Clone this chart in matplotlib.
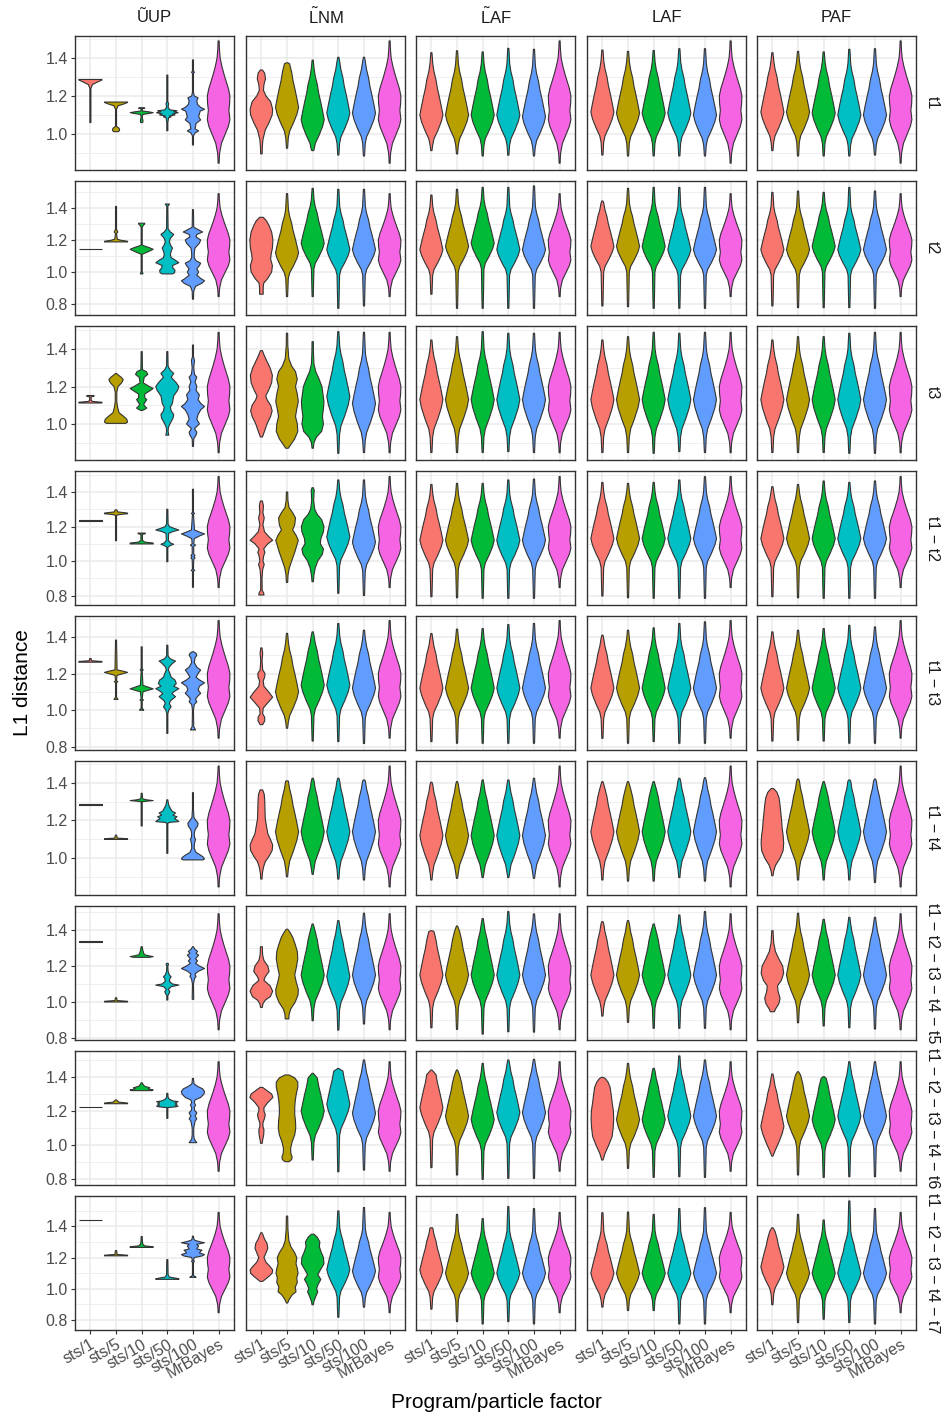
import matplotlib
matplotlib.use("Agg")
import matplotlib.pyplot as plt
import numpy as np
from matplotlib.ticker import MultipleLocator, FormatStrFormatter

plt.rcParams["font.family"] = ["Liberation Sans", "DejaVu Sans"]
plt.rcParams["mathtext.fontset"] = "custom"
plt.rcParams["mathtext.rm"] = "Liberation Sans"
plt.rcParams["mathtext.it"] = "Liberation Sans"

programs = ["sts/1", "sts/5", "sts/10", "sts/50", "sts/100", "MrBayes"]
methods = ["\u0168UP", r"$\tilde{\mathrm{L}}\mathrm{NM}$", r"$\tilde{\mathrm{L}}\mathrm{AF}$",
           "LAF", "PAF"]
topologies = ["t1", "t2", "t3", "t1 \u2212 t2", "t1 \u2212 t3", "t1 \u2212 t4",
              "t1 \u2212 t2 \u2212 t3 \u2212 t4 \u2212 t5",
              "t1 \u2212 t2 \u2212 t3 \u2212 t4 \u2212 t6",
              "t1 \u2212 t2 \u2212 t3 \u2212 t4 \u2212 t7"]
fill_colors = ["#F8766D", "#B79F00", "#00BA38", "#00BFC4", "#619CFF", "#F564E3"]

# y range of every facet row (free scales)
row_ylim = [(0.81, 1.516), (0.731, 1.569), (0.807, 1.524), (0.745, 1.522),
            (0.781, 1.515), (0.803, 1.517), (0.789, 1.533), (0.765, 1.553),
            (0.735, 1.595)]
# how spread out the body of a smooth violin is in each row (lower, upper)
row_body_scale = [(1.0, 1.0), (1.0, 1.0), (1.25, 1.0), (1.05, 1.0), (1.05, 1.0),
                  (1.25, 1.0), (1.15, 1.05), (1.15, 1.05), (1.1, 1.0)]

# MrBayes violin, identical in every facet: (L1 distance, half width)
mrbayes_y = [0.846, 0.87, 0.90, 0.95, 1.0, 1.04, 1.075, 1.10, 1.125, 1.16,
             1.20, 1.24, 1.27, 1.31, 1.355, 1.40, 1.45, 1.49]
mrbayes_w = [0.02, 0.025, 0.04, 0.11, 0.26, 0.38, 0.44, 0.42, 0.40, 0.43,
             0.44, 0.38, 0.31, 0.22, 0.13, 0.06, 0.03, 0.02]

body_up_dy = [0, 0.045, 0.095, 0.14, 0.185, 0.23, 0.27]
body_up_w = [1, 0.86, 0.69, 0.52, 0.40, 0.22, 0.12]
body_dn_dy = [0, 0.035, 0.08, 0.125, 0.16]
body_dn_w = [1, 0.86, 0.57, 0.23, 0.11]
tail_w = 0.05

# smooth violins: (min, mode, max) for sts/1 .. sts/100, one line per row
summ_lnm = [
    [None, (0.925, 1.14, 1.375), (0.912, 1.075, 1.389), (0.889, 1.11, 1.404), (0.884, 1.11, 1.404)],
    [None, (0.846, 1.12, 1.49), (0.846, 1.18, 1.523), (0.773, 1.14, 1.517), (0.788, 1.14, 1.517)],
    [None, None, None, (0.843, 1.146, 1.494), (0.847, 1.11, 1.49)],
    [None, None, None, (0.813, 1.14, 1.47), (0.80, 1.11, 1.47)],
    [None, (0.90, 1.10, 1.42), (0.83, 1.137, 1.428), (0.827, 1.137, 1.474), (0.817, 1.12, 1.437)],
    [None, (0.90, 1.14, 1.411), (0.913, 1.14, 1.425), (0.888, 1.14, 1.425), (0.883, 1.14, 1.416)],
    [None, None, (0.896, 1.15, 1.433), (0.844, 1.141, 1.452), (0.878, 1.15, 1.493)],
    [None, None, (0.912, 1.20, 1.422), (0.843, 1.24, 1.45), (0.853, 1.186, 1.50)],
    [None, None, None, (0.817, 1.123, 1.499), (0.882, 1.113, 1.521)],
]
summ_tlaf = [
    [(0.912, 1.10, 1.428), (0.895, 1.10, 1.438), (0.884, 1.10, 1.432), (0.888, 1.10, 1.451), (0.884, 1.09, 1.446)],
    [(0.861, 1.14, 1.481), (0.773, 1.16, 1.517), (0.773, 1.18, 1.529), (0.773, 1.14, 1.529), (0.773, 1.14, 1.538)],
    [(0.847, 1.13, 1.449), (0.847, 1.13, 1.467), (0.847, 1.13, 1.494), (0.852, 1.13, 1.485), (0.847, 1.13, 1.485)],
    [(0.793, 1.12, 1.444), (0.787, 1.12, 1.45), (0.784, 1.12, 1.45), (0.784, 1.12, 1.47), (0.784, 1.12, 1.475)],
    [(0.827, 1.12, 1.419), (0.818, 1.12, 1.443), (0.818, 1.12, 1.446), (0.818, 1.12, 1.468), (0.818, 1.12, 1.474)],
    [(0.883, 1.12, 1.404), (0.892, 1.12, 1.407), (0.896, 1.12, 1.416), (0.896, 1.12, 1.416), (0.892, 1.12, 1.425)],
    [(0.857, 1.15, 1.396), (0.848, 1.15, 1.422), (0.822, 1.15, 1.463), (0.835, 1.15, 1.502), (0.833, 1.15, 1.489)],
    [(0.867, 1.22, 1.441), (0.824, 1.17, 1.441), (0.798, 1.15, 1.48), (0.804, 1.19, 1.50), (0.804, 1.19, 1.504)],
    [(0.869, 1.12, 1.391), (0.789, 1.10, 1.477), (0.774, 1.10, 1.45), (0.789, 1.10, 1.527), (0.774, 1.10, 1.514)],
]
summ_laf = [
    [(0.889, 1.115, 1.442), (0.884, 1.11, 1.435), (0.884, 1.11, 1.44), (0.884, 1.11, 1.449), (0.884, 1.10, 1.449)],
    [(0.788, 1.16, 1.444), (0.783, 1.16, 1.523), (0.773, 1.16, 1.529), (0.773, 1.14, 1.529), (0.773, 1.14, 1.529)],
    [(0.847, 1.13, 1.449), (0.847, 1.13, 1.467), (0.843, 1.13, 1.49), (0.852, 1.13, 1.485), (0.847, 1.13, 1.49)],
    [(0.797, 1.13, 1.456), (0.787, 1.13, 1.45), (0.784, 1.13, 1.456), (0.784, 1.13, 1.47), (0.784, 1.13, 1.489)],
    [(0.845, 1.12, 1.41), (0.818, 1.12, 1.437), (0.827, 1.12, 1.45), (0.818, 1.12, 1.474), (0.818, 1.12, 1.483)],
    [(0.883, 1.14, 1.407), (0.877, 1.14, 1.407), (0.877, 1.14, 1.407), (0.896, 1.14, 1.425), (0.877, 1.14, 1.428)],
    [(0.922, 1.15, 1.446), (0.887, 1.15, 1.452), (0.854, 1.15, 1.433), (0.854, 1.15, 1.483), (0.854, 1.15, 1.502)],
    [None, (0.863, 1.15, 1.48), (0.81, 1.15, 1.451), (0.814, 1.17, 1.524), (0.81, 1.17, 1.50)],
    [(0.882, 1.10, 1.488), (0.86, 1.10, 1.492), (0.86, 1.10, 1.477), (0.774, 1.10, 1.514), (0.774, 1.10, 1.52)],
]
summ_paf = [
    [(0.912, 1.115, 1.428), (0.884, 1.115, 1.435), (0.884, 1.11, 1.432), (0.884, 1.10, 1.446), (0.889, 1.10, 1.449)],
    [(0.788, 1.14, 1.498), (0.777, 1.14, 1.506), (0.777, 1.16, 1.498), (0.777, 1.14, 1.529), (0.773, 1.14, 1.506)],
    [(0.847, 1.13, 1.449), (0.847, 1.13, 1.467), (0.847, 1.13, 1.467), (0.843, 1.13, 1.485), (0.843, 1.13, 1.49)],
    [(0.793, 1.13, 1.431), (0.787, 1.13, 1.444), (0.784, 1.13, 1.464), (0.784, 1.13, 1.456), (0.784, 1.13, 1.464)],
    [(0.83, 1.12, 1.428), (0.834, 1.12, 1.437), (0.83, 1.12, 1.446), (0.818, 1.12, 1.464), (0.818, 1.12, 1.455)],
    [None, (0.883, 1.14, 1.421), (0.883, 1.14, 1.407), (0.883, 1.14, 1.416), (0.87, 1.14, 1.421)],
    [None, (0.885, 1.15, 1.493), (0.867, 1.15, 1.459), (0.857, 1.15, 1.47), (0.85, 1.15, 1.47)],
    [(0.935, 1.11, 1.418), (0.824, 1.17, 1.431), (0.81, 1.15, 1.402), (0.814, 1.17, 1.49), (0.814, 1.17, 1.49)],
    [(0.897, 1.14, 1.391), (0.783, 1.10, 1.477), (0.804, 1.10, 1.441), (0.783, 1.10, 1.563), (0.774, 1.10, 1.514)],
]
summaries = [None, summ_lnm, summ_tlaf, summ_laf, summ_paf]

# irregular violins: (row, method, program) -> [(L1 distance, half width), ...]
odd_shapes = {
    # ~UP
    (0, 0, 0): [(1.06, 0.02), (1.24, 0.02), (1.26, 0.08), (1.275, 0.30), (1.284, 0.45), (1.287, 0.45)],
    (0, 0, 1): [(1.012, 0.10), (1.02, 0.14), (1.03, 0.12), (1.04, 0.02), (1.13, 0.02), (1.148, 0.08),
                (1.16, 0.35), (1.166, 0.45), (1.168, 0.45)],
    (0, 0, 2): [(1.06, 0.04), (1.07, 0.05), (1.09, 0.02), (1.103, 0.05), (1.108, 0.30), (1.112, 0.45),
                (1.116, 0.30), (1.121, 0.03), (1.133, 0.02), (1.135, 0.12), (1.138, 0.10)],
    (0, 0, 3): [(1.017, 0.02), (1.06, 0.02), (1.085, 0.05), (1.09, 0.15), (1.095, 0.08), (1.10, 0.30),
                (1.105, 0.20), (1.112, 0.42), (1.117, 0.25), (1.122, 0.38), (1.127, 0.10), (1.14, 0.03),
                (1.16, 0.05), (1.17, 0.02), (1.31, 0.02)],
    (0, 0, 4): [(0.942, 0.02), (0.99, 0.02), (1.005, 0.08), (1.016, 0.22), (1.027, 0.08), (1.04, 0.10),
                (1.055, 0.12), (1.074, 0.30), (1.09, 0.22), (1.105, 0.25), (1.12, 0.28), (1.13, 0.45),
                (1.14, 0.30), (1.155, 0.18), (1.175, 0.15), (1.19, 0.20), (1.20, 0.05), (1.22, 0.02),
                (1.32, 0.02), (1.325, 0.06), (1.33, 0.02), (1.39, 0.02)],
    (1, 0, 0): [(1.141, 0.45), (1.143, 0.45)],
    (1, 0, 1): [(1.188, 0.45), (1.192, 0.45), (1.198, 0.20), (1.205, 0.05), (1.24, 0.02), (1.25, 0.07),
                (1.255, 0.06), (1.265, 0.02), (1.41, 0.02)],
    (1, 0, 2): [(0.988, 0.05), (0.995, 0.04), (1.0, 0.02), (1.11, 0.02), (1.115, 0.08), (1.13, 0.30),
                (1.142, 0.45), (1.152, 0.30), (1.165, 0.06), (1.17, 0.02), (1.28, 0.02), (1.295, 0.08),
                (1.30, 0.12), (1.305, 0.12)],
    (1, 0, 3): [(0.988, 0.20), (0.995, 0.28), (1.01, 0.30), (1.025, 0.22), (1.04, 0.20), (1.058, 0.45),
                (1.075, 0.30), (1.09, 0.15), (1.11, 0.12), (1.13, 0.15), (1.15, 0.20), (1.17, 0.12),
                (1.19, 0.08), (1.21, 0.12), (1.235, 0.25), (1.25, 0.12), (1.27, 0.03), (1.41, 0.02),
                (1.42, 0.06), (1.425, 0.08)],
    (1, 0, 4): [(0.83, 0.02), (0.88, 0.03), (0.91, 0.10), (0.93, 0.35), (0.945, 0.45), (0.96, 0.30),
                (0.98, 0.15), (1.0, 0.22), (1.02, 0.15), (1.04, 0.25), (1.055, 0.30), (1.07, 0.12),
                (1.09, 0.05), (1.12, 0.05), (1.15, 0.08), (1.18, 0.25), (1.20, 0.30), (1.22, 0.12),
                (1.235, 0.15), (1.25, 0.38), (1.265, 0.20), (1.28, 0.03), (1.39, 0.02)],
    (2, 0, 0): [(1.112, 0.45), (1.116, 0.45), (1.12, 0.10), (1.125, 0.03), (1.145, 0.03), (1.148, 0.14),
                (1.152, 0.14)],
    (2, 0, 1): [(1.003, 0.38), (1.01, 0.45), (1.025, 0.42), (1.04, 0.30), (1.06, 0.12), (1.09, 0.06),
                (1.12, 0.03), (1.17, 0.03), (1.20, 0.08), (1.22, 0.22), (1.237, 0.28), (1.25, 0.20),
                (1.265, 0.06), (1.27, 0.02)],
    (2, 0, 2): [(1.072, 0.03), (1.078, 0.12), (1.085, 0.20), (1.095, 0.12), (1.105, 0.08), (1.12, 0.15),
                (1.13, 0.20), (1.14, 0.12), (1.16, 0.12), (1.18, 0.35), (1.19, 0.45), (1.20, 0.30),
                (1.22, 0.06), (1.25, 0.10), (1.265, 0.24), (1.28, 0.18), (1.29, 0.03), (1.387, 0.02)],
    (2, 0, 3): [(0.94, 0.06), (0.945, 0.05), (0.96, 0.03), (0.98, 0.04), (1.0, 0.10), (1.03, 0.22),
                (1.05, 0.25), (1.07, 0.15), (1.09, 0.12), (1.11, 0.20), (1.13, 0.22), (1.15, 0.25),
                (1.18, 0.40), (1.20, 0.45), (1.22, 0.35), (1.25, 0.15), (1.27, 0.25), (1.29, 0.10),
                (1.31, 0.03), (1.387, 0.02)],
    (2, 0, 4): [(0.88, 0.02), (0.92, 0.03), (0.94, 0.12), (0.955, 0.15), (0.975, 0.06), (1.0, 0.25),
                (1.025, 0.15), (1.05, 0.20), (1.075, 0.30), (1.093, 0.45), (1.11, 0.30), (1.13, 0.20),
                (1.155, 0.25), (1.18, 0.12), (1.20, 0.15), (1.225, 0.08), (1.25, 0.15), (1.265, 0.06),
                (1.30, 0.03), (1.34, 0.06), (1.36, 0.02), (1.422, 0.02)],
    (3, 0, 0): [(1.233, 0.45), (1.235, 0.45)],
    (3, 0, 1): [(1.118, 0.02), (1.265, 0.02), (1.27, 0.15), (1.274, 0.45), (1.278, 0.45), (1.285, 0.06),
                (1.292, 0.05), (1.297, 0.02)],
    (3, 0, 2): [(1.099, 0.45), (1.104, 0.45), (1.11, 0.12), (1.12, 0.03), (1.155, 0.03), (1.158, 0.14),
                (1.162, 0.14)],
    (3, 0, 3): [(0.996, 0.02), (1.08, 0.02), (1.09, 0.12), (1.097, 0.25), (1.105, 0.12), (1.12, 0.04),
                (1.16, 0.05), (1.17, 0.20), (1.18, 0.45), (1.19, 0.25), (1.20, 0.08), (1.215, 0.03),
                (1.30, 0.02)],
    (3, 0, 4): [(0.848, 0.02), (0.94, 0.02), (0.946, 0.07), (0.952, 0.02), (1.01, 0.03), (1.017, 0.08),
                (1.025, 0.04), (1.032, 0.08), (1.04, 0.03), (1.085, 0.03), (1.092, 0.10), (1.10, 0.03),
                (1.13, 0.05), (1.145, 0.25), (1.157, 0.45), (1.168, 0.25), (1.18, 0.06), (1.27, 0.02),
                (1.276, 0.06), (1.282, 0.02), (1.416, 0.02)],
    (4, 0, 0): [(1.262, 0.45), (1.266, 0.45), (1.27, 0.04), (1.28, 0.03), (1.282, 0.03)],
    (4, 0, 1): [(1.058, 0.08), (1.062, 0.06), (1.07, 0.02), (1.15, 0.02), (1.155, 0.07), (1.16, 0.02),
                (1.19, 0.04), (1.20, 0.30), (1.206, 0.45), (1.212, 0.30), (1.22, 0.04), (1.383, 0.02)],
    (4, 0, 2): [(0.999, 0.08), (1.003, 0.06), (1.01, 0.02), (1.05, 0.02), (1.055, 0.07), (1.06, 0.02),
                (1.10, 0.05), (1.11, 0.30), (1.116, 0.45), (1.123, 0.30), (1.135, 0.05), (1.215, 0.02),
                (1.22, 0.06), (1.225, 0.02), (1.346, 0.02)],
    (4, 0, 3): [(0.872, 0.02), (0.98, 0.02), (1.0, 0.06), (1.018, 0.15), (1.035, 0.08), (1.05, 0.12),
                (1.073, 0.32), (1.09, 0.18), (1.10, 0.25), (1.117, 0.45), (1.13, 0.25), (1.145, 0.35),
                (1.164, 0.30), (1.18, 0.15), (1.20, 0.10), (1.22, 0.04), (1.237, 0.08), (1.255, 0.20),
                (1.268, 0.32), (1.28, 0.12), (1.295, 0.03), (1.355, 0.02)],
    (4, 0, 4): [(0.891, 0.10), (0.895, 0.08), (0.91, 0.03), (1.0, 0.02), (1.03, 0.05), (1.045, 0.15),
                (1.06, 0.10), (1.075, 0.18), (1.091, 0.30), (1.11, 0.20), (1.13, 0.25), (1.149, 0.45),
                (1.165, 0.25), (1.18, 0.12), (1.20, 0.20), (1.219, 0.30), (1.235, 0.15), (1.26, 0.05),
                (1.285, 0.08), (1.30, 0.15), (1.31, 0.12), (1.319, 0.03)],
    (5, 0, 0): [(1.285, 0.45), (1.287, 0.45)],
    (5, 0, 1): [(1.099, 0.45), (1.103, 0.45), (1.106, 0.05), (1.118, 0.03), (1.122, 0.02)],
    (5, 0, 2): [(1.171, 0.02), (1.30, 0.02), (1.303, 0.20), (1.306, 0.45), (1.31, 0.20), (1.315, 0.05),
                (1.32, 0.03), (1.345, 0.02)],
    (5, 0, 3): [(1.025, 0.02), (1.185, 0.02), (1.19, 0.08), (1.194, 0.45), (1.20, 0.40), (1.21, 0.28),
                (1.22, 0.38), (1.228, 0.22), (1.24, 0.32), (1.25, 0.18), (1.265, 0.12), (1.28, 0.06),
                (1.30, 0.03), (1.31, 0.02)],
    (5, 0, 4): [(0.99, 0.38), (0.995, 0.45), (1.005, 0.40), (1.015, 0.30), (1.03, 0.12), (1.05, 0.05),
                (1.07, 0.05), (1.09, 0.08), (1.10, 0.10), (1.11, 0.06), (1.13, 0.05), (1.15, 0.08),
                (1.17, 0.18), (1.185, 0.20), (1.20, 0.12), (1.215, 0.04), (1.26, 0.02), (1.348, 0.02)],
    (6, 0, 0): [(1.334, 0.45), (1.336, 0.45)],
    (6, 0, 1): [(1.0, 0.45), (1.004, 0.45), (1.008, 0.04), (1.02, 0.03), (1.024, 0.02)],
    (6, 0, 2): [(1.248, 0.30), (1.252, 0.45), (1.256, 0.30), (1.262, 0.12), (1.27, 0.08), (1.28, 0.06),
                (1.29, 0.04), (1.30, 0.03), (1.307, 0.02)],
    (6, 0, 3): [(1.011, 0.02), (1.035, 0.02), (1.045, 0.06), (1.057, 0.10), (1.07, 0.04), (1.085, 0.15),
                (1.094, 0.45), (1.10, 0.20), (1.115, 0.08), (1.13, 0.10), (1.14, 0.15), (1.15, 0.08),
                (1.17, 0.03), (1.20, 0.02), (1.21, 0.05), (1.215, 0.02)],
    (6, 0, 4): [(1.015, 0.03), (1.10, 0.02), (1.13, 0.06), (1.141, 0.12), (1.155, 0.08), (1.17, 0.20),
                (1.186, 0.45), (1.20, 0.25), (1.215, 0.10), (1.228, 0.18), (1.24, 0.10), (1.26, 0.22),
                (1.27, 0.12), (1.281, 0.18), (1.295, 0.06), (1.307, 0.02)],
    (7, 0, 0): [(1.221, 0.45), (1.223, 0.45)],
    (7, 0, 1): [(1.243, 0.45), (1.247, 0.45), (1.252, 0.12), (1.26, 0.05), (1.265, 0.03)],
    (7, 0, 2): [(1.32, 0.40), (1.324, 0.45), (1.33, 0.25), (1.337, 0.32), (1.345, 0.12), (1.355, 0.06),
                (1.366, 0.02)],
    (7, 0, 3): [(1.157, 0.02), (1.22, 0.02), (1.225, 0.35), (1.229, 0.42), (1.234, 0.30), (1.241, 0.38),
                (1.248, 0.30), (1.255, 0.42), (1.26, 0.20), (1.27, 0.08), (1.28, 0.03), (1.304, 0.02)],
    (7, 0, 4): [(1.014, 0.15), (1.02, 0.12), (1.035, 0.05), (1.06, 0.03), (1.10, 0.03), (1.14, 0.08),
                (1.155, 0.15), (1.17, 0.08), (1.18, 0.12), (1.19, 0.15), (1.205, 0.06), (1.22, 0.05),
                (1.235, 0.10), (1.25, 0.05), (1.265, 0.08), (1.28, 0.30), (1.30, 0.43), (1.315, 0.45),
                (1.33, 0.38), (1.345, 0.18), (1.36, 0.04), (1.392, 0.02)],
    (8, 0, 0): [(1.440, 0.45), (1.442, 0.45)],
    (8, 0, 1): [(1.211, 0.45), (1.215, 0.45), (1.22, 0.04), (1.24, 0.03), (1.245, 0.02)],
    (8, 0, 2): [(1.265, 0.45), (1.269, 0.45), (1.275, 0.12), (1.285, 0.05), (1.30, 0.03), (1.335, 0.02)],
    (8, 0, 3): [(1.06, 0.45), (1.064, 0.45), (1.07, 0.25), (1.075, 0.08), (1.09, 0.03), (1.187, 0.02)],
    (8, 0, 4): [(1.073, 0.12), (1.078, 0.08), (1.085, 0.02), (1.17, 0.02), (1.176, 0.06), (1.182, 0.02),
                (1.20, 0.05), (1.21, 0.35), (1.219, 0.45), (1.23, 0.25), (1.24, 0.30), (1.247, 0.35),
                (1.255, 0.15), (1.265, 0.18), (1.273, 0.22), (1.285, 0.15), (1.295, 0.45), (1.30, 0.30),
                (1.31, 0.08), (1.32, 0.03), (1.337, 0.02)],
    # L~NM
    (0, 1, 0): [(0.895, 0.03), (0.93, 0.035), (0.97, 0.06), (1.02, 0.15), (1.06, 0.30), (1.10, 0.42),
                (1.13, 0.44), (1.17, 0.36), (1.20, 0.18), (1.23, 0.08), (1.26, 0.10), (1.29, 0.16),
                (1.32, 0.13), (1.337, 0.04)],
    (1, 1, 0): [(0.861, 0.07), (0.90, 0.07), (0.93, 0.09), (0.96, 0.25), (1.0, 0.40), (1.04, 0.43),
                (1.08, 0.36), (1.11, 0.38), (1.15, 0.43), (1.20, 0.45), (1.25, 0.40), (1.29, 0.30),
                (1.32, 0.20), (1.342, 0.07)],
    (2, 1, 0): [(0.93, 0.04), (0.96, 0.12), (1.0, 0.22), (1.04, 0.36), (1.07, 0.42), (1.10, 0.36),
                (1.13, 0.22), (1.15, 0.17), (1.18, 0.28), (1.22, 0.40), (1.26, 0.43), (1.30, 0.34),
                (1.34, 0.20), (1.37, 0.10), (1.392, 0.04)],
    (2, 1, 1): [(0.87, 0.05), (0.89, 0.15), (0.92, 0.30), (0.96, 0.42), (1.0, 0.40), (1.04, 0.33),
                (1.08, 0.38), (1.12, 0.44), (1.16, 0.40), (1.20, 0.33), (1.24, 0.40), (1.28, 0.33),
                (1.31, 0.18), (1.35, 0.07), (1.42, 0.03), (1.485, 0.025)],
    (2, 1, 2): [(0.87, 0.025), (0.90, 0.05), (0.93, 0.15), (0.96, 0.35), (1.0, 0.42), (1.04, 0.38),
                (1.08, 0.42), (1.12, 0.44), (1.16, 0.40), (1.20, 0.36), (1.24, 0.25), (1.28, 0.12),
                (1.32, 0.05), (1.38, 0.03), (1.44, 0.025)],
    (3, 1, 0): [(0.803, 0.10), (0.815, 0.09), (0.83, 0.03), (0.90, 0.025), (0.95, 0.05), (0.98, 0.11),
                (1.00, 0.06), (1.03, 0.09), (1.05, 0.14), (1.07, 0.09), (1.10, 0.25), (1.12, 0.44),
                (1.14, 0.30), (1.17, 0.12), (1.21, 0.06), (1.25, 0.11), (1.28, 0.06), (1.32, 0.08),
                (1.348, 0.04)],
    (3, 1, 1): [(0.876, 0.025), (0.92, 0.04), (0.96, 0.09), (1.0, 0.18), (1.05, 0.30), (1.09, 0.38),
                (1.12, 0.44), (1.15, 0.35), (1.18, 0.22), (1.21, 0.30), (1.25, 0.33), (1.28, 0.22),
                (1.31, 0.08), (1.35, 0.035), (1.40, 0.025)],
    (3, 1, 2): [(0.88, 0.025), (0.92, 0.05), (0.96, 0.10), (1.0, 0.20), (1.04, 0.38), (1.07, 0.42),
                (1.10, 0.30), (1.13, 0.32), (1.17, 0.42), (1.20, 0.44), (1.24, 0.35), (1.27, 0.18),
                (1.30, 0.08), (1.35, 0.04), (1.39, 0.05), (1.41, 0.06), (1.425, 0.025)],
    (4, 1, 0): [(0.92, 0.05), (0.94, 0.13), (0.96, 0.13), (0.98, 0.05), (1.01, 0.07), (1.04, 0.25),
                (1.07, 0.44), (1.10, 0.28), (1.13, 0.10), (1.16, 0.07), (1.18, 0.13), (1.20, 0.14),
                (1.22, 0.05), (1.27, 0.025), (1.31, 0.05), (1.34, 0.025)],
    (5, 1, 0): [(0.888, 0.025), (0.92, 0.04), (0.95, 0.08), (0.98, 0.15), (1.01, 0.30), (1.04, 0.42),
                (1.07, 0.44), (1.10, 0.35), (1.13, 0.25), (1.17, 0.20), (1.21, 0.15), (1.26, 0.14),
                (1.31, 0.13), (1.34, 0.11), (1.363, 0.05)],
    (6, 1, 0): [(0.97, 0.035), (0.99, 0.06), (1.01, 0.15), (1.03, 0.35), (1.06, 0.44), (1.09, 0.34),
                (1.12, 0.10), (1.14, 0.15), (1.17, 0.30), (1.20, 0.25), (1.23, 0.10), (1.26, 0.05),
                (1.307, 0.035)],
    (6, 1, 1): [(0.906, 0.07), (0.93, 0.08), (0.96, 0.14), (1.0, 0.32), (1.04, 0.43), (1.07, 0.44),
                (1.11, 0.36), (1.15, 0.30), (1.19, 0.36), (1.24, 0.42), (1.28, 0.40), (1.32, 0.32),
                (1.36, 0.22), (1.39, 0.10), (1.404, 0.03)],
    (7, 1, 0): [(1.01, 0.03), (1.03, 0.05), (1.06, 0.09), (1.09, 0.10), (1.11, 0.06), (1.13, 0.06),
                (1.16, 0.13), (1.18, 0.15), (1.20, 0.10), (1.22, 0.10), (1.25, 0.25), (1.28, 0.45),
                (1.30, 0.40), (1.32, 0.22), (1.339, 0.05)],
    (7, 1, 1): [(0.902, 0.08), (0.915, 0.18), (0.93, 0.20), (0.95, 0.15), (0.98, 0.14), (1.02, 0.20),
                (1.06, 0.30), (1.10, 0.34), (1.14, 0.33), (1.18, 0.30), (1.22, 0.30), (1.26, 0.32),
                (1.30, 0.36), (1.34, 0.42), (1.37, 0.42), (1.395, 0.30), (1.412, 0.08)],
    (8, 1, 0): [(1.047, 0.05), (1.06, 0.15), (1.08, 0.30), (1.10, 0.42), (1.12, 0.44), (1.14, 0.35),
                (1.17, 0.18), (1.20, 0.10), (1.23, 0.18), (1.26, 0.25), (1.29, 0.22), (1.32, 0.12),
                (1.35, 0.05), (1.359, 0.025)],
    (8, 1, 1): [(0.908, 0.025), (0.93, 0.08), (0.96, 0.20), (0.98, 0.35), (1.01, 0.32), (1.04, 0.40),
                (1.07, 0.38), (1.10, 0.43), (1.13, 0.40), (1.16, 0.35), (1.20, 0.38), (1.23, 0.30),
                (1.27, 0.15), (1.31, 0.07), (1.38, 0.035), (1.466, 0.025)],
    (8, 1, 2): [(0.897, 0.025), (0.92, 0.05), (0.95, 0.12), (0.98, 0.20), (1.0, 0.15), (1.03, 0.22),
                (1.06, 0.32), (1.09, 0.20), (1.12, 0.30), (1.16, 0.44), (1.20, 0.42), (1.24, 0.32),
                (1.27, 0.26), (1.30, 0.28), (1.33, 0.18), (1.35, 0.05)],
    # LAF / PAF oddities
    (7, 3, 0): [(0.912, 0.025), (0.95, 0.10), (1.0, 0.25), (1.05, 0.38), (1.10, 0.42), (1.15, 0.44),
                (1.20, 0.43), (1.25, 0.38), (1.30, 0.34), (1.34, 0.30), (1.37, 0.22), (1.39, 0.12),
                (1.398, 0.04)],
    (5, 4, 0): [(0.906, 0.025), (0.93, 0.05), (0.96, 0.12), (1.0, 0.30), (1.04, 0.42), (1.08, 0.44),
                (1.12, 0.42), (1.16, 0.38), (1.20, 0.36), (1.24, 0.33), (1.28, 0.30), (1.32, 0.26),
                (1.35, 0.18), (1.37, 0.05)],
    (6, 4, 0): [(0.946, 0.08), (0.96, 0.12), (0.99, 0.25), (1.02, 0.30), (1.06, 0.22), (1.09, 0.20),
                (1.12, 0.35), (1.16, 0.44), (1.20, 0.40), (1.24, 0.25), (1.28, 0.12), (1.33, 0.05),
                (1.396, 0.025)],
}

HALF = 0.45  # ggplot violin width 0.9, scale = "width"


def template_knots(lo, mode, hi, s_dn, s_up):
    knots = [(lo, tail_w * HALF)]
    for d, w in zip(body_dn_dy[::-1], body_dn_w[::-1]):
        if mode - d * s_dn > lo:
            knots.append((mode - d * s_dn, w * HALF))
    for d, w in zip(body_up_dy[1:], body_up_w[1:]):
        if mode + d * s_up < hi:
            knots.append((mode + d * s_up, w * HALF))
    knots.append((hi, tail_w * HALF))
    return knots


def draw_violin(ax, x, knots, color):
    knots = sorted(knots)
    ys = np.array([k[0] for k in knots])
    ws = np.array([k[1] for k in knots])
    px = np.concatenate([x - ws, (x + ws)[::-1]])
    py = np.concatenate([ys, ys[::-1]])
    ax.fill(px, py, facecolor=color, edgecolor="#333333", linewidth=0.8,
            joinstyle="round", zorder=3)


W, H = 947, 1416
fig = plt.figure(figsize=(W / 100, H / 100), dpi=100)

col_left = [75, 246, 416, 587, 757]
panel_w, panel_h = 159, 134
row_top = [36 + 145 * i for i in range(9)]

for r in range(len(topologies)):
    for c in range(len(methods)):
        ax = fig.add_axes([col_left[c] / W, 1 - (row_top[r] + panel_h) / H,
                           panel_w / W, panel_h / H])
        xs = np.arange(1, len(programs) + 1)
        for p in range(len(programs) - 1):
            if (r, c, p) in odd_shapes:
                knots = odd_shapes[(r, c, p)]
            else:
                lo, mode, hi = summaries[c][r][p]
                knots = template_knots(lo, mode, hi, *row_body_scale[r])
            draw_violin(ax, xs[p], knots, fill_colors[p])
        draw_violin(ax, xs[-1], list(zip(mrbayes_y, mrbayes_w)), fill_colors[-1])

        ax.set_xlim(0.4, 6.6)
        ax.set_ylim(*row_ylim[r])
        ax.set_xticks(xs)
        ax.yaxis.set_major_locator(MultipleLocator(0.2))
        ax.yaxis.set_minor_locator(MultipleLocator(0.1))
        ax.yaxis.set_major_formatter(FormatStrFormatter("%.1f"))
        ax.set_axisbelow(True)
        ax.grid(which="major", color="#EBEBEB", linewidth=1.1, zorder=0)
        ax.grid(which="minor", axis="y", color="#EBEBEB", linewidth=0.55, zorder=0)
        for sp in ax.spines.values():
            sp.set_color("#333333")
            sp.set_linewidth(1.0)
            sp.set_zorder(4)
        ax.tick_params(which="minor", length=0)
        ax.tick_params(which="major", color="#333333", length=3, width=0.8,
                       labelcolor="#4D4D4D", labelsize=11.5, pad=2)
        if c != 0:
            ax.tick_params(axis="y", length=0, labelleft=False)
        if r != len(topologies) - 1:
            ax.tick_params(axis="x", length=0, labelbottom=False)
        else:
            ax.set_xticklabels(programs, rotation=30, ha="right", va="top",
                               rotation_mode="anchor")

        if r == 0:
            fig.text((col_left[c] + panel_w / 2) / W, 1 - 17 / H, methods[c],
                     ha="center", va="center", fontsize=12, color="#1A1A1A")
    fig.text(932 / W, 1 - (row_top[r] + panel_h / 2) / H, topologies[r],
             ha="center", va="center", rotation=-90, fontsize=11.5,
             color="#1A1A1A")

fig.text(22 / W, 1 - 683 / H, "L1 distance", rotation=90, ha="center",
         va="center", fontsize=15)
fig.text(496 / W, 1 - 1403 / H, "Program/particle factor", ha="center",
         va="center", fontsize=15)

fig.savefig("out.png", dpi=100)
